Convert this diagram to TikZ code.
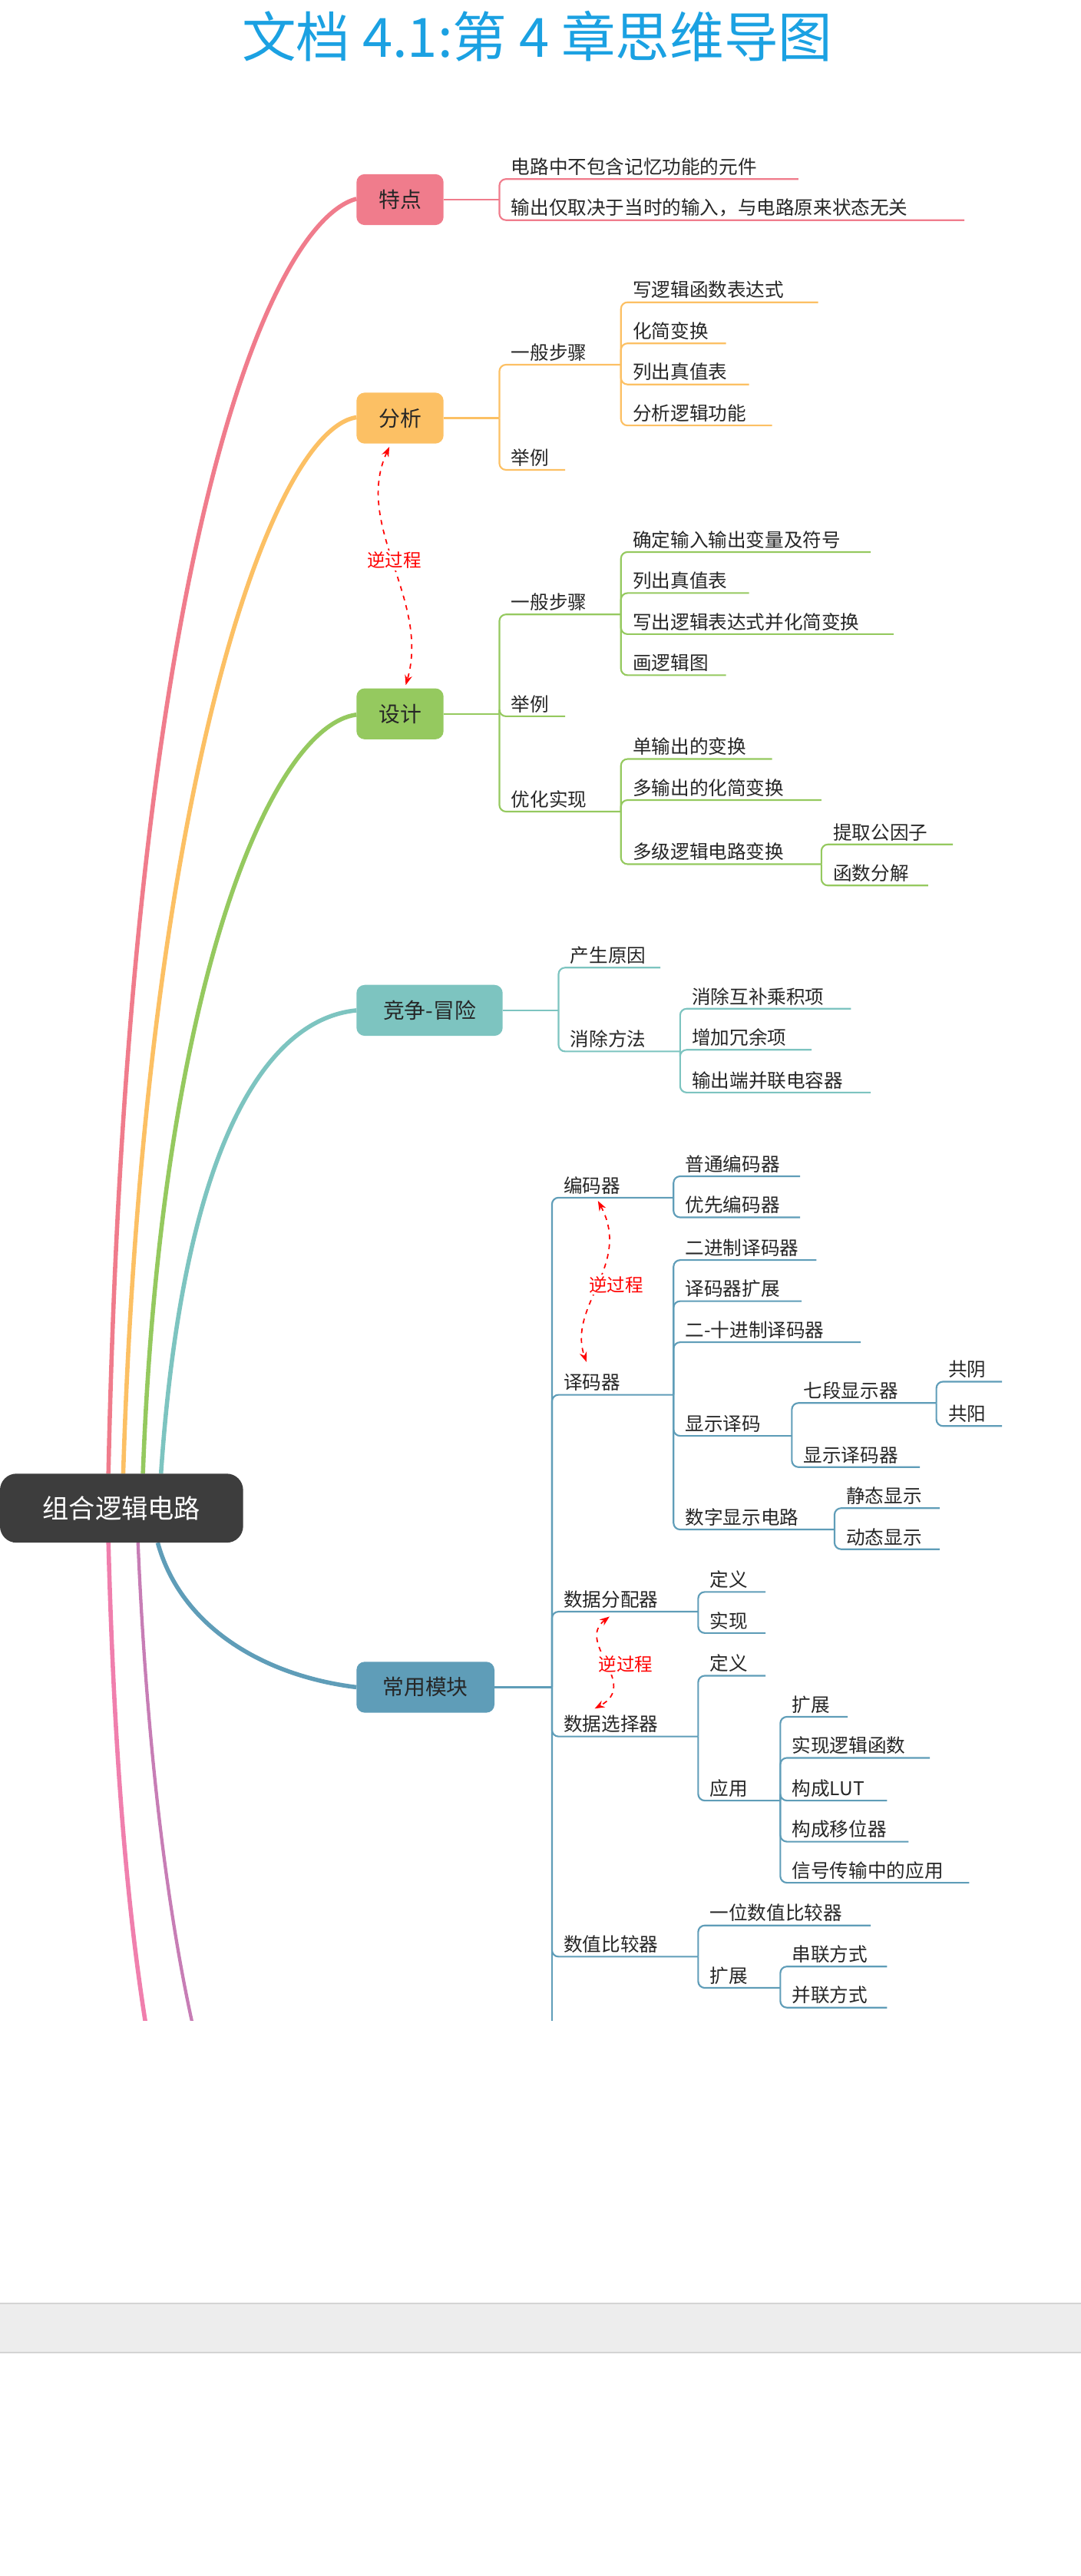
\documentclass[tikz,border=0pt]{standalone}
\usepackage{fontspec}
\setmainfont{Noto Sans CJK SC}
\usetikzlibrary{arrows.meta}
\definecolor{cA}{HTML}{F07C8C}
\definecolor{cB}{HTML}{FCC064}
\definecolor{cC}{HTML}{95C95F}
\definecolor{cD}{HTML}{7DC4C0}
\definecolor{cE}{HTML}{5F9DB8}
\definecolor{cF}{HTML}{F07FAD}
\definecolor{cG}{HTML}{C77DB5}
\definecolor{ttl}{HTML}{1BA1E2}
\newcommand\kid[7]{\draw[#1,line width=1pt,rounded corners=4pt] (#3,#4) |- (#6,#5);
  \node[leaf,anchor=south west] (#2) at (#3+5,#5) {#7};}
\tikzset{leaf/.style={font=\fontsize{11.5}{12}\selectfont,inner sep=2pt,text=black!85},
  topic/.style={rounded corners=5pt,minimum height=31pt,inner xsep=0pt,font=\fontsize{13}{14}\selectfont,text=black!85},
  inv/.style={red,dashed,line width=0.8pt,{Stealth[length=6pt]}-{Stealth[length=6pt]}},
  invl/.style={red,font=\fontsize{11}{12}\selectfont,fill=white,inner sep=1pt},
  main/.style={line width=2.6pt}}
\begin{document}
\begin{tikzpicture}[x=1pt,y=-1pt]
\useasboundingbox (0,0) rectangle (658,1568);
\node[text=ttl,font=\fontsize{33}{36}\selectfont] (title) at (327,22) {文档 4.1:第 4 章思维导图};
% gray band
\fill[black!7] (0,1402) rectangle (658,1432);
\draw[black!17,line width=1pt] (0,1402) -- (658,1402) (0,1432) -- (658,1432);
% main curves
\draw[cA,main] (66,897) .. controls (78,330) and (165,135) .. (217,121);
\draw[cB,main] (75,897) .. controls (88,480) and (165,262) .. (217,254);
\draw[cC,main] (87,897) .. controls (98,600) and (165,442) .. (217,435);
\draw[cD,main] (98,897) .. controls (112,690) and (165,620) .. (217,615);
\begin{scope}
\clip (0,0) rectangle (658,1230);
\draw[cE,main] (96,939) .. controls (110,990) and (160,1020) .. (217,1027);
\draw[cF,main] (66,939) .. controls (70,1090) and (80,1180) .. (90,1240);
\draw[cG,line width=2pt] (84,939) .. controls (90,1080) and (105,1180) .. (119,1240);
\draw[cE,line width=1pt] (336,1030) -- (336,1240);
\end{scope}
% root
\node[fill=black!76,text=white,rounded corners=10pt,minimum width=148pt,minimum height=42pt,font=\fontsize{16}{17}\selectfont] (root) at (74,918) {组合逻辑电路};
% 特点
\node[topic,fill=cA,minimum width=53pt] (t1) at (243.5,121.5) {特点};
\draw[cA,line width=1pt] (t1.east) -- (304,121.5);
\kid{cA}{a1}{304}{121.5}{109}{486}{电路中不包含记忆功能的元件}
\kid{cA}{a2}{304}{121.5}{134}{587}{输出仅取决于当时的输入，与电路原来状态无关}
% 分析
\node[topic,fill=cB,minimum width=53pt] (t2) at (243.5,254.5) {分析};
\draw[cB,line width=1pt] (t2.east) -- (304,254.5);
\kid{cB}{b1}{304}{254.5}{222}{378}{一般步骤}
\kid{cB}{b2}{304}{254.5}{286}{344}{举例}
\kid{cB}{b11}{378}{222}{184}{498}{写逻辑函数表达式}
\kid{cB}{b12}{378}{222}{209}{442}{化简变换}
\kid{cB}{b13}{378}{222}{234}{456}{列出真值表}
\kid{cB}{b14}{378}{222}{259}{470}{分析逻辑功能}
% 设计
\node[topic,fill=cC,minimum width=53pt] (t3) at (243.5,434.5) {设计};
\draw[cC,line width=1pt] (t3.east) -- (304,434.5);
\kid{cC}{c1}{304}{434.5}{374}{378}{一般步骤}
\kid{cC}{c2}{304}{434.5}{436}{344}{举例}
\kid{cC}{c3}{304}{434.5}{494}{378}{优化实现}
\kid{cC}{c11}{378}{374}{336}{530}{确定输入输出变量及符号}
\kid{cC}{c12}{378}{374}{361}{456}{列出真值表}
\kid{cC}{c13}{378}{374}{386}{544}{写出逻辑表达式并化简变换}
\kid{cC}{c14}{378}{374}{411}{442}{画逻辑图}
\kid{cC}{c31}{378}{494}{462}{470}{单输出的变换}
\kid{cC}{c32}{378}{494}{487}{500}{多输出的化简变换}
\kid{cC}{c33}{378}{494}{526}{500}{多级逻辑电路变换}
\kid{cC}{c331}{500}{526}{514}{580}{提取公因子}
\kid{cC}{c332}{500}{526}{539}{565}{函数分解}
\draw[inv] (237,272) .. controls (215,320) and (262,365) .. (247,417);
\node[invl] (inv1) at (240,341) {逆过程};
% 竞争-冒险
\node[topic,fill=cD,minimum width=89pt] (t4) at (261.5,615) {竞争-冒险};
\draw[cD,line width=1pt] (t4.east) -- (340,615);
\kid{cD}{d1}{340}{615}{589}{402}{产生原因}
\kid{cD}{d2}{340}{615}{640}{414}{消除方法}
\kid{cD}{d21}{414}{640}{614}{518}{消除互补乘积项}
\kid{cD}{d22}{414}{640}{639}{494}{增加冗余项}
\kid{cD}{d23}{414}{640}{665}{530}{输出端并联电容器}
% 常用模块
\node[topic,fill=cE,minimum width=84pt] (t5) at (259,1027) {常用模块};
\draw[cE,line width=1pt] (t5.east) -- (336,1027);
\kid{cE}{e1}{336}{1027}{729}{410}{编码器}
\kid{cE}{e2}{336}{1027}{849}{410}{译码器}
\kid{cE}{e3}{336}{1027}{981}{425}{数据分配器}
\kid{cE}{e4}{336}{1027}{1057}{425}{数据选择器}
\kid{cE}{e5}{336}{1027}{1191}{425}{数值比较器}
\kid{cE}{e11}{410}{729}{716}{487}{普通编码器}
\kid{cE}{e12}{410}{729}{741}{487}{优先编码器}
\kid{cE}{e21}{410}{849}{767}{497}{二进制译码器}
\kid{cE}{e22}{410}{849}{792}{488}{译码器扩展}
\kid{cE}{e23}{410}{849}{817}{524}{二-十进制译码器}
\kid{cE}{e24}{410}{849}{874}{482}{显示译码}
\kid{cE}{e25}{410}{849}{931}{508}{数字显示电路}
\kid{cE}{e241}{482}{874}{854}{570}{七段显示器}
\kid{cE}{e242}{482}{874}{893}{560}{显示译码器}
\kid{cE}{e2411}{570}{854}{841}{610}{共阴}
\kid{cE}{e2412}{570}{854}{868}{610}{共阳}
\kid{cE}{e251}{508}{931}{918}{572}{静态显示}
\kid{cE}{e252}{508}{931}{943}{572}{动态显示}
\kid{cE}{e31}{425}{981}{969}{466}{定义}
\kid{cE}{e32}{425}{981}{994}{466}{实现}
\kid{cE}{e41}{425}{1057}{1020}{466}{定义}
\kid{cE}{e42}{425}{1057}{1096}{475}{应用}
\kid{cE}{e421}{475}{1096}{1045}{516}{扩展}
\kid{cE}{e422}{475}{1096}{1070}{566}{实现逻辑函数}
\kid{cE}{e423}{475}{1096}{1096}{540}{构成LUT}
\kid{cE}{e424}{475}{1096}{1121}{553}{构成移位器}
\kid{cE}{e425}{475}{1096}{1146}{590}{信号传输中的应用}
\kid{cE}{e51}{425}{1191}{1172}{530}{一位数值比较器}
\kid{cE}{e52}{425}{1191}{1210}{475}{扩展}
\kid{cE}{e521}{475}{1210}{1197}{540}{串联方式}
\kid{cE}{e522}{475}{1210}{1222}{540}{并联方式}
\draw[inv] (364,731) .. controls (385,770) and (345,795) .. (357,829);
\node[invl] (inv2) at (375,782) {逆过程};
\draw[inv] (371,984) .. controls (350,1000) and (390,1025) .. (362,1040);
\node[invl] (inv3) at (381,1013) {逆过程};
\end{tikzpicture}
\end{document}
